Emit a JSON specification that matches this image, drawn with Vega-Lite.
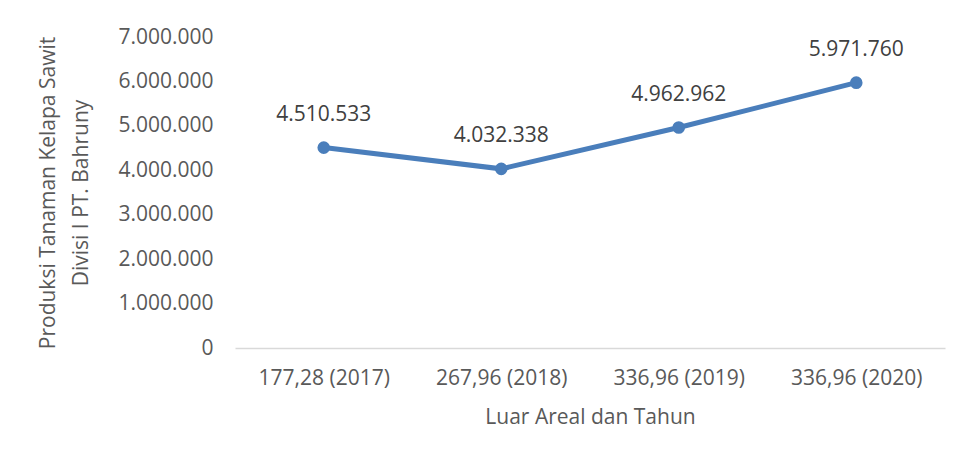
{
  "$schema": "https://vega.github.io/schema/vega-lite/v6.json",
  "width": 710,
  "height": 311,
  "autosize": "none",
  "padding": {"left": 235, "top": 37, "right": 15, "bottom": 112},
  "background": "white",
  "config": {
    "view": {"stroke": null},
    "font": "Open Sans",
    "locale": {"number": {"decimal": ",", "thousands": ".", "grouping": [3], "currency": ["Rp", ""]}}
  },
  "data": {
    "values": [
      {"kategori": "177,28 (2017)", "produksi": 4510533},
      {"kategori": "267,96 (2018)", "produksi": 4032338},
      {"kategori": "336,96 (2019)", "produksi": 4962962},
      {"kategori": "336,96 (2020)", "produksi": 5971760}
    ]
  },
  "encoding": {
    "x": {
      "field": "kategori",
      "type": "nominal",
      "sort": null,
      "scale": {"type": "point", "padding": 0.5},
      "axis": {
        "title": "Luar Areal dan Tahun",
        "labelAngle": 0,
        "labelFontSize": 21,
        "labelColor": "#595959",
        "labelPadding": 19,
        "ticks": false,
        "domainColor": "#d9d9d9",
        "domainWidth": 1.5,
        "grid": false,
        "titleFontSize": 21,
        "titleFontWeight": "normal",
        "titleColor": "#595959",
        "titlePadding": 18
      }
    },
    "y": {
      "field": "produksi",
      "type": "quantitative",
      "scale": {"domain": [0, 7000000], "nice": false},
      "axis": {
        "title": ["Produksi Tanaman Kelapa Sawit", "Divisi I PT. Bahruny"],
        "values": [0, 1000000, 2000000, 3000000, 4000000, 5000000, 6000000, 7000000],
        "format": ",d",
        "labelFontSize": 21,
        "labelColor": "#595959",
        "labelPadding": 22,
        "ticks": false,
        "domain": false,
        "grid": false,
        "titleFontSize": 21,
        "titleFontWeight": "normal",
        "titleColor": "#595959",
        "titleLineHeight": 33,
        "titlePadding": 26
      }
    }
  },
  "layer": [
    {"mark": {"type": "line", "color": "#4a7ebb", "strokeWidth": 5}},
    {"mark": {"type": "point", "filled": true, "opacity": 1, "color": "#4a7ebb", "size": 160}},
    {
      "mark": {"type": "text", "dy": -33, "fontSize": 21, "color": "#404040", "baseline": "middle"},
      "encoding": {"text": {"field": "produksi", "type": "quantitative", "format": ",d"}}
    }
  ]
}
